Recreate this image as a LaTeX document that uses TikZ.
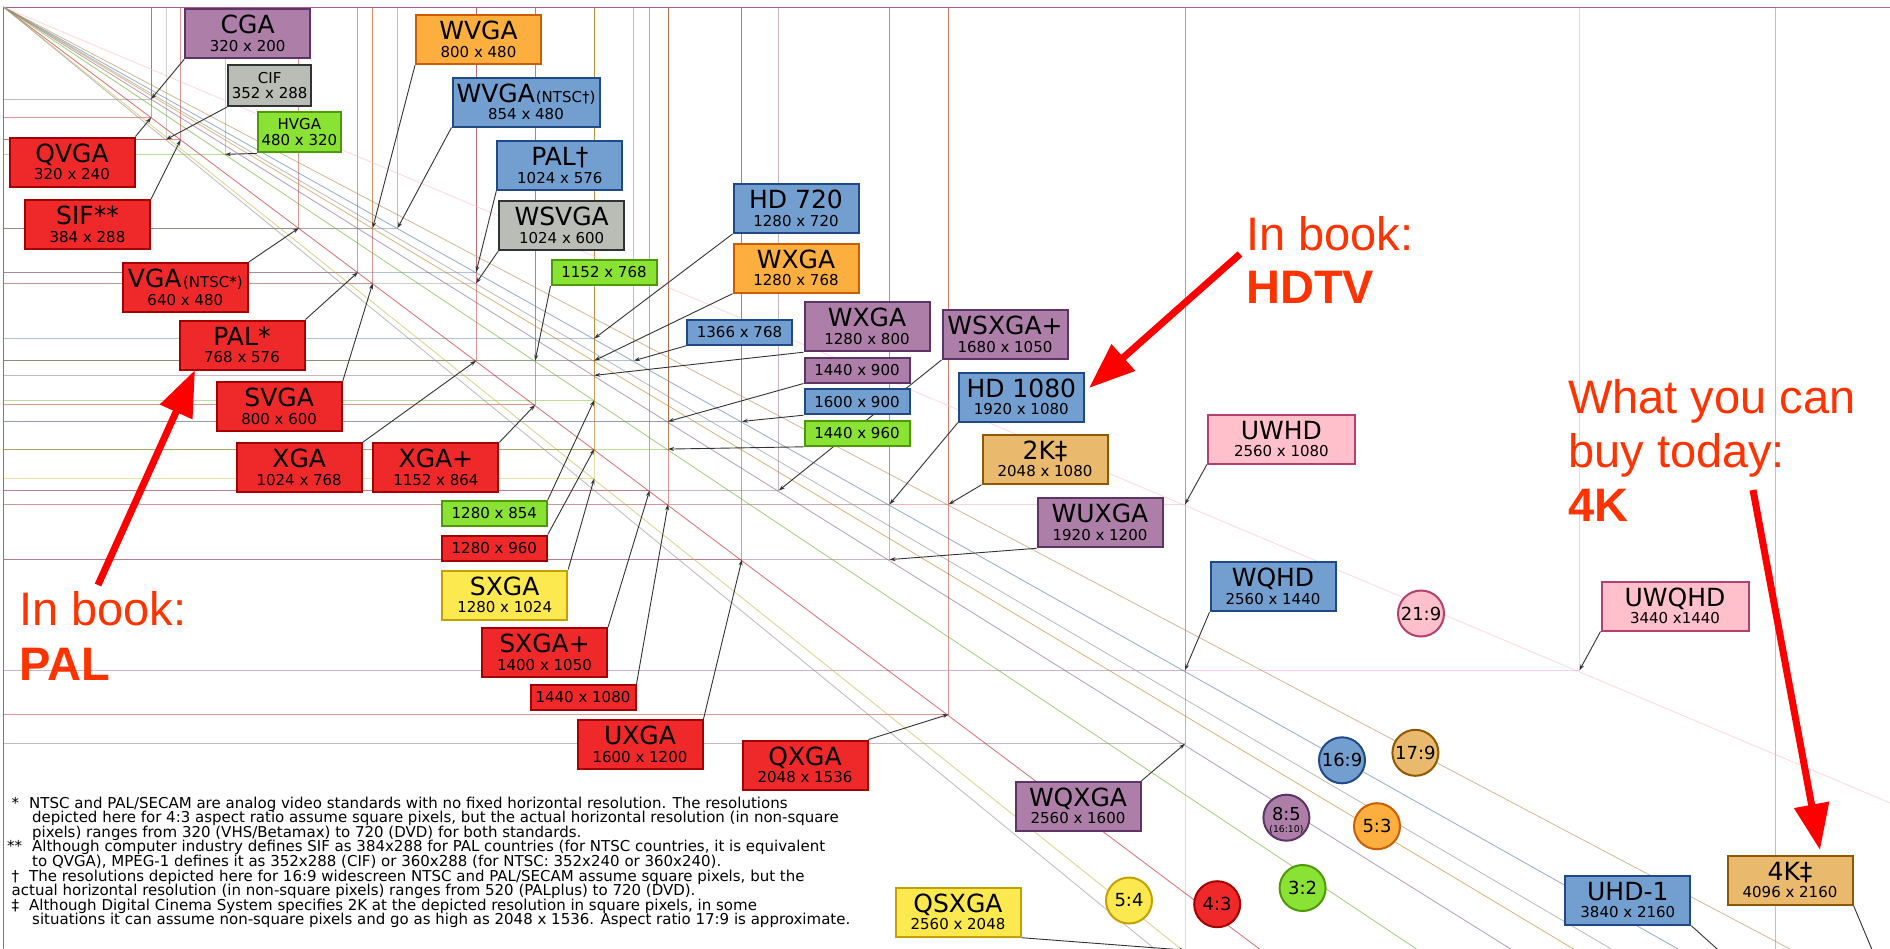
\documentclass[tikz,border=0pt]{standalone}
\usepackage{fontspec}
\setmainfont{DejaVu Sans}
\newfontfamily\annfont{Liberation Sans}
\usetikzlibrary{arrows.meta}
\pgfdeclarelayer{bgfill}
\pgfdeclarelayer{grid}
\pgfdeclarelayer{conn}
\pgfsetlayers{bgfill,grid,conn,main}
\definecolor{fR}{HTML}{EF2929}\definecolor{dR}{HTML}{A40000}
\definecolor{fY}{HTML}{FCE94F}\definecolor{dY}{HTML}{C4A000}
\definecolor{fG}{HTML}{8AE234}\definecolor{dG}{HTML}{4E9A06}
\definecolor{fP}{HTML}{AD7FA8}\definecolor{dP}{HTML}{5C3566}
\definecolor{fO}{HTML}{FCAF3E}\definecolor{dO}{HTML}{CE5C00}
\definecolor{fB}{HTML}{729FCF}\definecolor{dB}{HTML}{204A87}
\definecolor{fT}{HTML}{E9B96E}\definecolor{dT}{HTML}{8F5902}
\definecolor{fK}{HTML}{FFC0CB}\definecolor{dK}{HTML}{B5406E}
\definecolor{fS}{HTML}{BABDB6}\definecolor{dS}{HTML}{2E3436}
\definecolor{lK}{HTML}{F2A0C8}
\definecolor{annot}{HTML}{FF3300}
\definecolor{bigred}{HTML}{FF0000}
\definecolor{frame}{HTML}{A4508F}
\newcommand\twoline[7]{\vbox{\offinterlineskip
\hbox to 0pt{\hss\vrule height #2pt depth 0pt width 0pt\smash{\fontsize{#1}{#1}\selectfont #6}\hss}%
\hbox to 0pt{\hss\vrule height \dimexpr #4pt-#2pt\relax depth \dimexpr #5pt-#4pt\relax width 0pt\smash{\fontsize{#3}{#3}\selectfont #7}\hss}}}
\newcommand\bt[2]{\twoline{25}{24.6}{15}{42}{49}{#1}{#2}}
\newcommand\mt[2]{\twoline{15}{17.8}{15}{33.3}{40.5}{#1}{#2}}
\newcommand\smf{\fontsize{15}{15}\selectfont}
\tikzset{
  resbox/.style={rectangle, draw, line width=2pt, minimum width=125pt, minimum height=49pt, inner sep=0pt},
  widebox/.style={resbox, minimum width=147pt},
  midbox/.style={rectangle, draw, line width=2pt, minimum width=83pt, minimum height=40.5pt, inner sep=0pt},
  smallbox/.style={rectangle, draw, line width=2pt, minimum width=105pt, minimum height=25pt, inner sep=0pt, font=\smf},
  ratio/.style={circle, draw, line width=2pt, minimum size=46pt, inner sep=0pt, font=\fontsize{18}{18}\selectfont},
  cR/.style={fill=fR, draw=dR}, cY/.style={fill=fY, draw=dY}, cG/.style={fill=fG, draw=dG},
  cP/.style={fill=fP, draw=dP}, cO/.style={fill=fO, draw=dO}, cB/.style={fill=fB, draw=dB},
  cT/.style={fill=fT, draw=dT}, cK/.style={fill=fK, draw=dK}, cS/.style={fill=fS, draw=dS},
  gridline/.style={line width=0.9pt, draw opacity=0.48},
  diagline/.style={line width=0.85pt, draw opacity=0.6},
  link/.style={draw=black!80, line width=0.9pt, -{Stealth[length=6pt,width=4pt]}},
  bigarrow/.style={draw=bigred, line width=7pt, -{Triangle[length=46pt,width=34pt]}},
  notetext/.style={anchor=base west, inner sep=0pt, text=annot}
}
\begin{document}
\begin{tikzpicture}[x=1pt,y=-1pt]
\useasboundingbox (0,0) rectangle (1890,948);
\begin{pgfonlayer}{bgfill}
\fill[white] (0,0) rectangle (1890,948);
\end{pgfonlayer}
\coordinate (O) at (3.5,7);
\coordinate (r3440-1440) at (1579.5,670.2);
\coordinate (frameTR) at (1890,7);
\coordinate (frameBL) at (3.5,948);

% ---------- grid rectangles and aspect diagonals
\begin{pgfonlayer}{grid}
\begin{scope}
\clip (0,0) rectangle (1890,948);
\foreach \w/\h/\c/\m in {320/200/fP/82, 320/240/fR/82, 352/288/fS/82, 384/288/fR/82, 480/320/fG/82,
  640/480/fR/82, 768/576/fR/82, 800/600/fR/82, 800/480/fO/82, 854/480/fB/82, 1024/576/fB/82,
  1024/600/fS/82, 1024/768/fR/82, 1152/768/fG/82, 1152/864/fR/82, 1280/720/fB/82, 1280/768/fO/82,
  1280/800/fP/82, 1280/854/fG/82, 1280/960/fR/82, 1280/1024/fY/82, 1366/768/fB/82,
  1400/1050/fR/82, 1440/900/fP/82, 1440/960/fG/82, 1440/1080/fR/82, 1600/900/fB/82,
  1600/1200/fR/82, 1680/1050/fP/82, 1920/1080/fB/82, 1920/1200/fP/82, 2048/1080/fT/82,
  2048/1536/fR/82, 2560/1080/lK/100, 2560/1440/fB/82, 2560/1600/fP/82, 2560/2048/fY/82,
  3840/2160/fB/82, 4096/2160/fT/82}{
  \coordinate (r\w-\h) at ({3.5+0.4615*\w},{7+0.4605*\h});
  \draw[gridline, draw=\c!\m!black] (O) rectangle (r\w-\h);
}
\draw[gridline, draw=lK] (O) rectangle (r3440-1440);
\draw[line width=1pt, draw=frame, draw opacity=0.8] (frameBL) -- (O) -- (frameTR);
\foreach \s/\c/\m in {0.75/fR/78, 0.8/fY/78, 0.6667/fG/78, 0.625/fP/78, 0.6/fO/78, 0.5625/fB/78,
  0.5273/fT/78, 0.4219/fK/100, 0.8182/fS/78, 0.5859/fS/78}{
  \draw[diagline, draw=\c!\m!black] (O) -- ++(2000,{2000*\s});
}
\end{scope}
\end{pgfonlayer}

% ---------- resolution boxes
\node[resbox,cP] (cga) at (247.7,33.8) {\bt{CGA}{320 x 200}};
\node[midbox,cS] (cif) at (269.7,85.7) {\mt{CIF}{352 x 288}};
\node[midbox,cG] (hvga) at (299.4,132.2) {\mt{HVGA}{480 x 320}};
\node[resbox,cR] (qvga) at (72,162) {\bt{QVGA}{320 x 240}};
\node[resbox,cR] (sif) at (87.5,224.5) {\bt{SIF**}{384 x 288}};
\node[resbox,cR] (vga) at (185.3,287.5) {\bt{VGA\kern1.5pt{\smf(NTSC*)}}{640 x 480}};
\node[resbox,cR] (pal) at (242,345) {\bt{PAL*}{768 x 576}};
\node[resbox,cR] (svga) at (279.2,406.7) {\bt{SVGA}{800 x 600}};
\node[resbox,cR] (xga) at (299.2,467.8) {\bt{XGA}{1024 x 768}};
\node[resbox,cR] (xgap) at (435.9,467.8) {\bt{XGA+}{1152 x 864}};
\node[smallbox,cG] (s1280x854) at (494.3,513.3) {1280 x 854};
\node[smallbox,cR] (s1280x960) at (494.3,548) {1280 x 960};
\node[resbox,cY] (sxga) at (504.7,595) {\bt{SXGA}{1280 x 1024}};
\node[resbox,cR] (sxgap) at (544.5,652.8) {\bt{SXGA+}{1400 x 1050}};
\node[smallbox,cR] (s1440x1080) at (583,697.5) {1440 x 1080};
\node[resbox,cR] (uxga) at (640,744.5) {\bt{UXGA}{1600 x 1200}};
\node[resbox,cR] (qxga) at (805,765) {\bt{QXGA}{2048 x 1536}};
\node[resbox,cO] (wvga) at (478.5,39.8) {\bt{WVGA}{800 x 480}};
\node[widebox,cB] (wvgan) at (526,102) {\bt{WVGA\kern1pt{\smf(NTSC†)}}{854 x 480}};
\node[resbox,cB] (palw) at (559.8,165.5) {\bt{PAL†}{1024 x 576}};
\node[resbox,cS] (wsvga) at (561.7,225.7) {\bt{WSVGA}{1024 x 600}};
\node[smallbox,cG] (s1152x768) at (604,272.5) {1152 x 768};
\node[resbox,cB] (hd720) at (796,208.5) {\bt{HD 720}{1280 x 720}};
\node[resbox,cO] (wxgao) at (796,268.2) {\bt{WXGA}{1280 x 768}};
\node[smallbox,cB] (s1366x768) at (739.5,332.3) {1366 x 768};
\node[resbox,cP] (wxgap) at (867,326.7) {\bt{WXGA}{1280 x 800}};
\node[smallbox,cP] (s1440x900) at (857,370) {1440 x 900};
\node[smallbox,cB] (s1600x900) at (857,401.7) {1600 x 900};
\node[smallbox,cG] (s1440x960) at (857,433.3) {1440 x 960};
\node[resbox,cP] (wsxga) at (1005,334.5) {\bt{WSXGA+}{1680 x 1050}};
\node[resbox,cB] (hd1080) at (1021.3,397.2) {\bt{HD 1080}{1920 x 1080}};
\node[resbox,cT] (twok) at (1045,459.3) {\bt{2K‡}{2048 x 1080}};
\node[resbox,cP] (wuxga) at (1100,522.8) {\bt{WUXGA}{1920 x 1200}};
\node[widebox,cK] (uwhd) at (1281.4,439) {\bt{UWHD}{2560 x 1080}};
\node[resbox,cB] (wqhd) at (1273,586.7) {\bt{WQHD}{2560 x 1440}};
\node[widebox,cK] (uwqhd) at (1675,606) {\bt{UWQHD}{3440 x1440}};
\node[resbox,cP] (wqxga) at (1078,806.3) {\bt{WQXGA}{2560 x 1600}};
\node[resbox,cY] (qsxga) at (958,912.2) {\bt{QSXGA}{2560 x 2048}};
\node[resbox,cB] (uhd) at (1627.8,900.2) {\bt{UHD-1}{3840 x 2160}};
\node[resbox,cT] (fourk) at (1790,880) {\bt{4K‡}{4096 x 2160}};

% ---------- aspect ratio circles
\node[ratio,cK] (c219) at (1421,613.5) {21:9};
\node[ratio,cB] (c169) at (1342,760.3) {16:9};
\node[ratio,cT] (c179) at (1415.4,752.8) {17:9};
\node[ratio,cP] (c85) at (1286.4,817.7) {\twoline{17.8}{17.5}{9.3}{29.5}{30}{8:5}{(16:10)}};
\node[ratio,cO] (c53) at (1377,826.2) {5:3};
\node[ratio,cG] (c32) at (1302.6,888) {3:2};
\node[ratio,cY] (c54) at (1129,900.5) {5:4};
\node[ratio,cR] (c43) at (1217.2,904.2) {4:3};

% ---------- connectors
\begin{pgfonlayer}{conn}
\begin{scope}
\clip (0,0) rectangle (1890,948);
\foreach \a/\b in {cga.south west/r320-200, cif.south west/r352-288, hvga.south west/r480-320,
  qvga.north east/r320-240, sif.north east/r384-288, vga.north east/r640-480,
  pal.north east/r768-576, svga.north east/r800-600, xga.north east/r1024-768,
  xgap.north east/r1152-864, s1280x854.north east/r1280-854, s1280x960.north east/r1280-960,
  sxga.north east/r1280-1024, sxgap.north east/r1400-1050, s1440x1080.north east/r1440-1080,
  uxga.north east/r1600-1200, qxga.north east/r2048-1536, wvga.south west/r800-480,
  wvgan.south west/r854-480, palw.south west/r1024-576, wsvga.south west/r1024-600,
  s1152x768.south west/r1152-768, hd720.south west/r1280-720, wxgao.south west/r1280-768,
  s1366x768.south west/r1366-768, wxgap.south west/r1280-800, s1440x900.south west/r1440-900,
  s1600x900.south west/r1600-900, s1440x960.south west/r1440-960, wsxga.south west/r1680-1050,
  hd1080.south west/r1920-1080, twok.south west/r2048-1080, wuxga.south west/r1920-1200,
  uwhd.south west/r2560-1080, wqhd.south west/r2560-1440, uwqhd.south west/r3440-1440,
  wqxga.north east/r2560-1600, qsxga.south east/r2560-2048, uhd.south east/r3840-2160,
  fourk.south east/r4096-2160}{
  \draw[link] (\a) -- (\b);
}
\end{scope}
\end{pgfonlayer}

% ---------- footnotes
\node[anchor=base west, inner sep=0pt] (notes) at (11.5,808.3) {\vtop{\hsize=1000pt\parindent=0pt\parskip=0pt\fontsize{15}{14.55}\selectfont
\makebox[17.5pt][l]{*}NTSC and PAL/SECAM are analog video standards with no fixed horizontal resolution. The resolutions\par
\hspace*{20.5pt}depicted here for 4:3 aspect ratio assume square pixels, but the actual horizontal resolution (in non-square\par
\hspace*{20.5pt}pixels) ranges from 320 (VHS/Betamax) to 720 (DVD) for both standards.\par
\hspace*{-4.5pt}\makebox[25pt][l]{**}Although computer industry defines SIF as 384x288 for PAL countries (for NTSC countries, it is equivalent\par
\hspace*{20.5pt}to QVGA), MPEG-1 defines it as 352x288 (CIF) or 360x288 (for NTSC: 352x240 or 360x240).\par
\makebox[17.5pt][l]{†}The resolutions depicted here for 16:9 widescreen NTSC and PAL/SECAM assume square pixels, but the\par
actual horizontal resolution (in non-square pixels) ranges from 520 (PALplus) to 720 (DVD).\par
\makebox[17.5pt][l]{‡}Although Digital Cinema System specifies 2K at the depicted resolution in square pixels, in some\par
\hspace*{20.5pt}situations it can assume non-square pixels and go as high as 2048 x 1536. Aspect ratio 17:9 is approximate.\par}};

% ---------- annotations
\node[notetext] (nhdtv) at (1246,250) {\vtop{\annfont\fontsize{47}{53}\selectfont\hbox{In book:}\hbox{\bfseries HDTV}}};
\node[notetext] (npal) at (19,625) {\vtop{\annfont\fontsize{47}{55}\selectfont\hbox{In book:}\hbox{\bfseries PAL}}};
\node[notetext] (n4k) at (1568,413) {\vtop{\annfont\fontsize{47}{54}\selectfont\hbox{What you can}\hbox{buy today:}\hbox{\bfseries 4K}}};
\coordinate (aPal1) at (98,585);
\coordinate (aPal2) at (195,370);
\coordinate (aHd1) at (1240,254);
\coordinate (aHd2) at (1089,388);
\coordinate (aK1) at (1753,490);
\coordinate (aK2) at (1820,850);
\draw[bigarrow] (aPal1) -- (aPal2);
\draw[bigarrow] (aHd1) -- (aHd2);
\draw[bigarrow] (aK1) -- (aK2);
\end{tikzpicture}
\end{document}
